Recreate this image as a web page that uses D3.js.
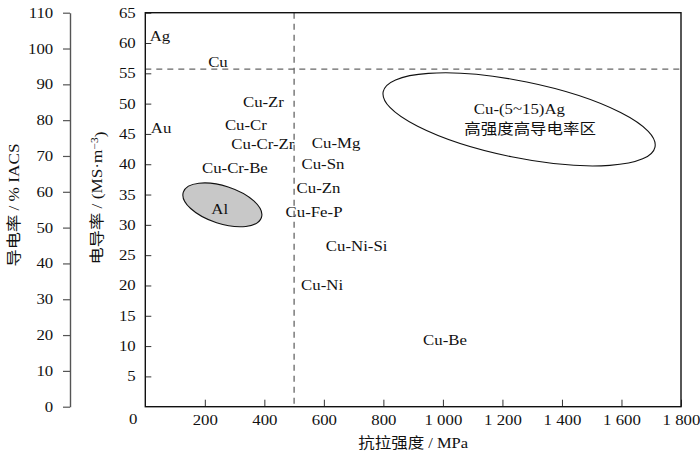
<!DOCTYPE html>
<html>
<head>
<meta charset="utf-8">
<script src="https://cdn.jsdelivr.net/npm/d3@7"></script>
<style>
body { margin: 0; background: #fff; }
text { font-family: 'Liberation Serif', 'Noto Sans CJK SC', serif; fill: #111; }
</style>
</head>
<body>
<svg id="chart" width="700" height="464"></svg>
<script>
// tick values
const strengthTicks = [200, 400, 600, 800, 1000, 1200, 1400, 1600, 1800]
const conductivityTicks = [5, 10, 15, 20, 25, 30, 35, 40, 45, 50, 55, 60, 65]
const iacsTicks = [0, 10, 20, 30, 40, 50, 60, 70, 80, 90, 100, 110]

// alloy labels (strength MPa, conductivity MS/m)
const alloyNames = ["Ag", "Cu", "Cu-Zr", "Au", "Cu-Cr", "Cu-Cr-Zr", "Cu-Cr-Be", "Cu-Mg", "Cu-Sn", "Cu-Zn", "Cu-Fe-P", "Cu-Ni-Si", "Cu-Ni", "Cu-Be"]
const alloyStrength = [49, 244, 397, 53, 338, 395, 301, 641, 597, 582, 567, 710, 594, 1007]
const alloyConductivity = [61.2, 56.9, 50.3, 46.0, 46.5, 43.3, 39.5, 43.5, 40.0, 36.2, 32.1, 26.5, 20.2, 11.0]

// regions drawn as ellipses: centre, half axes (MPa, MS/m), tilt
const regionNames = ["Al", "Cu-(5~15)Ag"]
const regionSubNames = ["", "高强度高导电率区"]
const regionStrength = [259, 1256]
const regionConductivity = [33.3, 47.4]
const regionHalfStrength = [138, 466]
const regionHalfConductivity = [3.1, 6.3]
const regionTilt = [18, 11.5]

// dashed reference lines
const refStrength = 500
const refConductivity = 55.7

const svg = d3.select('#chart')

//scales
const x = d3.scaleLinear().domain([0, 1800]).range([145.3, 681])
const y = d3.scaleLinear().domain([0, 65]).range([406.7, 12.7])
const yIacs = d3.scaleLinear().domain([0, 110]).range([406.7, 12.7])

//left %IACS axis (grey)
const iacsAxis = svg.append('g')
    .attr('transform', 'translate(70,0)')
    .call(d3.axisLeft(yIacs).tickValues(iacsTicks).tickSizeInner(7).tickSizeOuter(0).tickPadding(7))
iacsAxis.select('.domain').attr('stroke', '#555').attr('stroke-width', 1.4)
iacsAxis.selectAll('.tick line').attr('stroke', '#555').attr('stroke-width', 1.2)
iacsAxis.selectAll('.tick text')
    .style('font-size', '14px').attr('fill', '#111')
    .attr('transform', 'scale(1.2,1)')

//dashed reference lines
svg.append('line')
    .attr('x1', x(refStrength)).attr('x2', x(refStrength))
    .attr('y1', y(65)).attr('y2', y(0))
    .attr('stroke', '#666').attr('stroke-width', 1.3).attr('stroke-dasharray', '6,5')
svg.append('line')
    .attr('x1', x(0)).attr('x2', x(1800))
    .attr('y1', y(refConductivity)).attr('y2', y(refConductivity))
    .attr('stroke', '#666').attr('stroke-width', 1.3).attr('stroke-dasharray', '6,5')

//x axis, ticks pointing inward
const xAxisG = svg.append('g')
    .attr('transform', `translate(0,${y(0)})`)
    .call(d3.axisBottom(x).tickValues(strengthTicks).tickSizeInner(-7).tickSizeOuter(0).tickPadding(8)
        .tickFormat(d => d3.format(',')(d).replace(',', ' ')))
xAxisG.select('.domain').remove()
xAxisG.selectAll('.tick line').attr('stroke', '#333')
xAxisG.selectAll('.tick text')
    .style('font-size', '14px').attr('fill', '#111')
    .attr('transform', 'scale(1.2,1)')

//y axis, ticks pointing inward
const yAxisG = svg.append('g')
    .attr('transform', `translate(${x(0)},0)`)
    .call(d3.axisLeft(y).tickValues(conductivityTicks).tickSizeInner(-6).tickSizeOuter(0).tickPadding(8))
yAxisG.select('.domain').remove()
yAxisG.selectAll('.tick line').attr('stroke', '#333')
yAxisG.selectAll('.tick text')
    .style('font-size', '14px').attr('fill', '#111')
    .attr('transform', 'scale(1.2,1)')

// shared zero at the corner
svg.append('g')
    .attr('transform', `translate(${x(0) - 12},${y(0) + 12}) scale(1.2,1)`)
    .append('text').attr('text-anchor', 'middle').attr('dy', '0.35em')
    .style('font-size', '14px').text('0')

//frame
svg.append('rect')
    .attr('x', x(0)).attr('y', y(65))
    .attr('width', x(1800) - x(0)).attr('height', y(0) - y(65))
    .attr('fill', 'none').attr('stroke', '#111').attr('stroke-width', 1.4)

//region ellipses
regionNames.forEach(function (name, i) {
    const cx = x(regionStrength[i]), cy = y(regionConductivity[i])
    const rx = x(regionStrength[i] + regionHalfStrength[i]) - cx
    const ry = cy - y(regionConductivity[i] + regionHalfConductivity[i])
    svg.append('ellipse')
        .attr('cx', cx).attr('cy', cy).attr('rx', rx).attr('ry', ry)
        .attr('transform', `rotate(${regionTilt[i]},${cx},${cy})`)
        .attr('fill', i == 0 ? '#c8c8c8' : 'none')
        .attr('stroke', '#111').attr('stroke-width', 1.1)
})

// region texts
svg.append('g')
    .attr('transform', `translate(${x(250)},${y(32.6)}) scale(1.12,1)`)
    .append('text').attr('text-anchor', 'middle').attr('dy', '0.35em')
    .style('font-size', '15px').text(regionNames[0])
svg.append('g')
    .attr('transform', `translate(${x(1257)},${y(49.1)}) scale(1.12,1)`)
    .append('text').attr('text-anchor', 'middle').attr('dy', '0.35em')
    .style('font-size', '15px').text(regionNames[1])
svg.append('g')
    .attr('transform', `translate(${x(1293)},${y(45.8)}) scale(1.1,1)`)
    .append('text').attr('text-anchor', 'middle').attr('dy', '0.35em')
    .style('font-size', '15px').text(regionSubNames[1])

//alloy labels
svg.append('g').selectAll('g')
    .data(alloyNames)
    .join('g')
    .attr('transform', (d, i) => `translate(${x(alloyStrength[i])},${y(alloyConductivity[i])}) scale(1.12,1)`)
    .append('text')
    .attr('text-anchor', 'middle').attr('dy', '0.35em')
    .style('font-size', '15px')
    .text(d => d)

//axis titles
svg.append('g')
    .attr('transform', `translate(${(x(0) + x(1800)) / 2},443) scale(1.1,1)`)
    .append('text').attr('text-anchor', 'middle').attr('dy', '0.35em')
    .style('font-size', '15px').text('抗拉强度 / MPa')

svg.append('g')
    .attr('transform', 'translate(14,205) rotate(-90) scale(1.15,1)')
    .append('text').attr('text-anchor', 'middle').attr('dy', '0.35em')
    .style('font-size', '15px').text('导电率 / % IACS')

const yTitle = svg.append('g')
    .attr('transform', 'translate(97,198) rotate(-90) scale(1.15,1)')
    .append('text').attr('text-anchor', 'middle').attr('dy', '0.35em')
    .style('font-size', '15px')
yTitle.append('tspan').text('电导率 / (MS·m')
yTitle.append('tspan').attr('dy', '-0.45em').style('font-size', '10px').text('−3')
yTitle.append('tspan').attr('dy', '0.45em').text(')')
</script>
</body>
</html>
